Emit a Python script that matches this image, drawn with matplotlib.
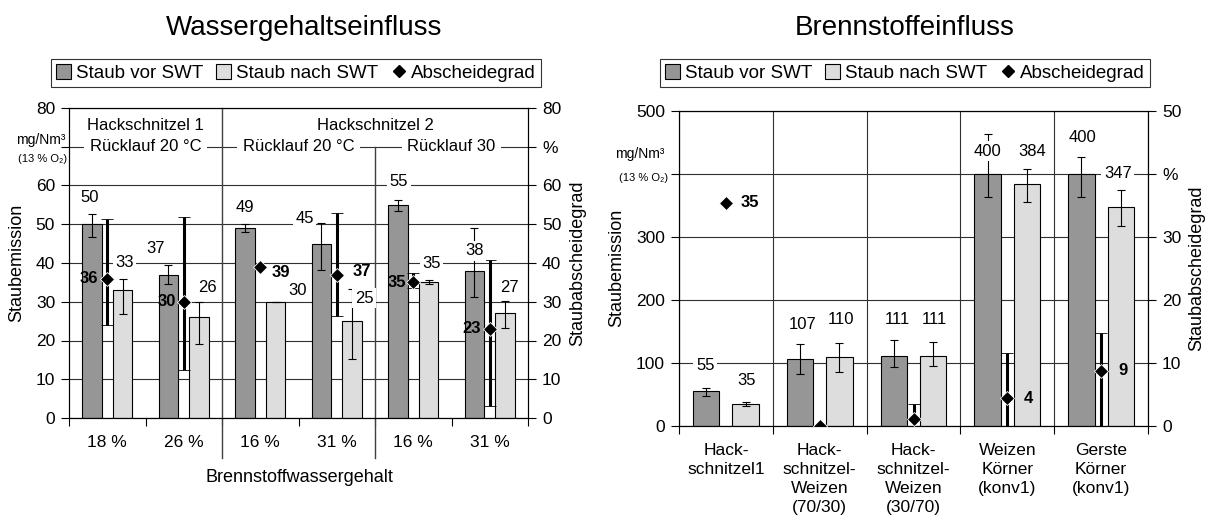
import numpy as np
import matplotlib
matplotlib.use("Agg")
import matplotlib.pyplot as plt
from matplotlib.patches import Patch
from matplotlib.lines import Line2D

plt.rcParams['font.family'] = ['Liberation Sans', 'DejaVu Sans']

# ---------------- data: Wassergehaltseinfluss ----------------
wg_groups = ['18 %', '26 %', '16 %', '31 %', '16 %', '31 %']
wg_vor = [50, 37, 49, 45, 55, 38]
wg_vor_lo = [46.6, 34.7, 48.1, 38.2, 53.3, 31.3]
wg_vor_hi = [52.6, 39.4, 50.0, 50.2, 56.2, 49.1]
wg_nach = [33, 26, 30, 25, 35, 27]
wg_nach_lo = [26.9, 19.2, 30.0, 15.3, 34.7, 23.2]
wg_nach_hi = [35.9, 30.0, 30.0, 33.3, 35.6, 30.3]
wg_grad = [36, 30, 39, 37, 35, 23]
wg_grad_lo = [24.0, 12.3, 39.0, 26.3, 33.5, 3.2]
wg_grad_hi = [51.4, 51.9, 39.0, 52.8, 37.5, 40.9]
wg_fuel = ['Hackschnitzel 1', 'Hackschnitzel 2']
wg_ruecklauf = ['Rücklauf 20 °C', 'Rücklauf 20 °C', 'Rücklauf 30']

# ---------------- data: Brennstoffeinfluss ----------------
bf_cats = ['Hack-\nschnitzel1', 'Hack-\nschnitzel-\nWeizen\n(70/30)',
           'Hack-\nschnitzel-\nWeizen\n(30/70)', 'Weizen\nKörner\n(konv1)',
           'Gerste\nKörner\n(konv1)']
bf_vor = [55, 107, 111, 400, 400]
bf_vor_lo = [47, 83, 93, 364, 364]
bf_vor_hi = [61, 130, 137, 464, 427]
bf_nach = [35, 110, 111, 384, 347]
bf_nach_lo = [31, 85, 95, 355, 317]
bf_nach_hi = [38, 131, 134, 408, 374]
bf_grad = [35.4, 0, 1.1, 4.4, 8.8]
bf_grad_lo = [35.4, 0, 0, 0, 0]
bf_grad_hi = [35.4, 0, 3.5, 11.6, 14.7]
bf_grad_labels = ['35', '', '', '4', '9']

# ---------------- styles ----------------
W, H = 1213, 532
C_DARK = '#969696'
C_LIGHT = '#DDDDDD'
GRID = '#303030'
FS_TICK = 12.5
FS_LAB = 12

fig = plt.figure(figsize=(W / 100, H / 100), dpi=100)


def px_axes(x0, y0, x1, y1):
    return fig.add_axes([x0 / W, (H - y1) / H, (x1 - x0) / W, (y1 - y0) / H])


def err(v, lo, hi):
    v = np.asarray(v, float)
    return [v - np.asarray(lo, float), np.asarray(hi, float) - v]


def setup_xaxis(ax, n, labels):
    ax.set_xlim(-0.5, n - 0.5)
    ax.set_xticks(np.arange(n + 1) - 0.5)
    ax.set_xticklabels([])
    ax.set_xticks(np.arange(n), minor=True)
    ax.set_xticklabels(labels, minor=True, fontsize=FS_TICK, linespacing=1.35,
                       va='top')
    ax.tick_params(axis='x', which='major', length=6, direction='out',
                   width=0.8)
    ax.tick_params(axis='x', which='minor', length=0, pad=12)


def draw_chart(ax, cats, vor, vlo, vhi, nach, nlo, nhi, grad, glo, ghi,
               ymax, ystep, gmax, gstep, off, bw, vor_off, nach_off,
               grad_labels, grad_off, pct_tick):
    n = len(cats)
    x = np.arange(n)
    ax.bar(x - off, vor, bw, color=C_DARK, edgecolor='black', lw=0.8, zorder=2)
    ax.bar(x + off, nach, bw, color=C_LIGHT, edgecolor='black', lw=0.8,
           zorder=2)
    ax.errorbar(x - off, vor, yerr=err(vor, vlo, vhi), fmt='none',
                ecolor='black', elinewidth=0.8, capsize=3, capthick=0.8,
                zorder=3)
    ax.errorbar(x + off, nach, yerr=err(nach, nlo, nhi), fmt='none',
                ecolor='black', elinewidth=0.8, capsize=3, capthick=0.8,
                zorder=3)
    ax.set_ylim(0, ymax)
    yt = np.arange(0, ymax + ystep / 2, ystep)
    ax.set_yticks(yt)
    ax.set_yticklabels(['' if t == pct_tick * ymax / gmax else '%g' % t
                        for t in yt], fontsize=FS_TICK)
    ax.tick_params(axis='y', length=6, width=0.8, pad=4)
    ax.yaxis.grid(True, color=GRID, lw=0.8)
    ax.set_axisbelow(True)
    setup_xaxis(ax, n, cats)
    for s in ax.spines.values():
        s.set_linewidth(0.8)

    ax2 = ax.twinx()
    ax2.set_ylim(0, gmax)
    gt = np.arange(0, gmax + gstep / 2, gstep)
    ax2.set_yticks(gt)
    ax2.set_yticklabels(['%' if t == pct_tick else '%g' % t for t in gt],
                        fontsize=FS_TICK)
    ax2.tick_params(axis='y', length=6, width=0.8, pad=4)
    ax2.errorbar(x, grad, yerr=err(grad, glo, ghi), fmt='D', color='black',
                 ms=7.5, mec='white', mew=0.6, elinewidth=2.2, capsize=4,
                 capthick=2.2, zorder=5)
    # value labels (white background); offsets in px, positive = up
    for i in range(n):
        for val, xo, (dx, dy) in ((vor[i], -off, vor_off[i]),
                                  (nach[i], off, nach_off[i])):
            ax2.annotate('%g' % val, xy=(x[i] + xo, val), xycoords=ax.transData,
                         xytext=(dx * 0.72, dy * 0.72), textcoords='offset points',
                         ha='center', va='center', fontsize=FS_LAB, zorder=6,
                         bbox=dict(boxstyle='square,pad=0.15', fc='white',
                                   ec='none'))
        if grad_labels[i]:
            dx, dy = grad_off[i]
            ax2.annotate(grad_labels[i], xy=(x[i], grad[i]),
                         xytext=(dx * 0.72, dy * 0.72),
                         textcoords='offset points', ha='center', va='center',
                         fontsize=FS_LAB, fontweight='bold', zorder=7)
    return ax2


# ================= left chart =================
axL = px_axes(69, 108, 528, 418)
wg_vor_off = [(-2, 27), (-13, 26), (0, 21), (-17, 25), (1, 23), (0, 20)]
wg_nach_off = [(2, 28), (8, 30), (22, 11), (12, 23), (3, 19), (4, 26)]
wg_grad_off = [(-18, 0), (-17, 0), (21, -6), (25, 3), (-16, 0), (-18, 0)]
axL2 = draw_chart(axL, wg_groups, wg_vor, wg_vor_lo, wg_vor_hi, wg_nach,
                  wg_nach_lo, wg_nach_hi, wg_grad, wg_grad_lo, wg_grad_hi,
                  80, 10, 80, 10, 0.2, 0.26, wg_vor_off, wg_nach_off,
                  [str(g) for g in wg_grad], wg_grad_off, 70)
# separators
axL.axvline(1.5, ymin=-40 / 310, ymax=1, color='#404040', lw=1.0,
            clip_on=False, zorder=1)
axL.axvline(3.5, ymin=-40 / 310, ymax=70 / 80, color='#404040', lw=1.0,
            clip_on=False, zorder=1)
for cx, t in zip([0.5, 3.5], wg_fuel):
    axL2.text(cx, 75.4, t, ha='center', va='center', fontsize=FS_LAB,
              transform=axL.transData)
for cx, t in zip([0.5, 2.5, 4.5], wg_ruecklauf):
    axL2.text(cx, 70, t, ha='center', va='center', fontsize=FS_LAB,
              transform=axL.transData,
              bbox=dict(boxstyle='square,pad=0.35', fc='white', ec='none'))
fig.text(65 / W, (H - 140) / H, 'mg/Nm³', ha='right', va='center', fontsize=10)
fig.text(67 / W, (H - 159) / H, '(13 % O₂)', ha='right', va='center',
         fontsize=8)
fig.text(17 / W, (H - 263) / H, 'Staubemission', rotation=90, ha='center',
         va='center', fontsize=13)
fig.text(578 / W, (H - 263) / H, 'Staubabscheidegrad', rotation=90,
         ha='center', va='center', fontsize=13)
fig.text(299 / W, (H - 477) / H, 'Brennstoffwassergehalt', ha='center',
         va='center', fontsize=13)

# ================= right chart =================
axR = px_axes(679, 111, 1148, 426)
bf_vor_off = [(-1, 26), (3, 34), (4, 37), (0, 23), (1, 36)]
bf_nach_off = [(1, 23), (2, 37), (1, 37), (5, 33), (-3, 34)]
bf_grad_off = [(24, 0), (0, 0), (0, 0), (21, 0), (22, 0)]
axR2 = draw_chart(axR, bf_cats, bf_vor, bf_vor_lo, bf_vor_hi, bf_nach,
                  bf_nach_lo, bf_nach_hi, bf_grad, bf_grad_lo, bf_grad_hi,
                  500, 100, 50, 10, 0.21, 0.28, bf_vor_off, bf_nach_off,
                  bf_grad_labels, bf_grad_off, 40)
axR.xaxis.grid(True, which='major', color=GRID, lw=0.8)
fig.text(664 / W, (H - 154) / H, 'mg/Nm³', ha='right', va='center',
         fontsize=10)
fig.text(668 / W, (H - 178) / H, '(13 % O₂)', ha='right', va='center',
         fontsize=8)
fig.text(617 / W, (H - 268) / H, 'Staubemission', rotation=90, ha='center',
         va='center', fontsize=13)
fig.text(1197 / W, (H - 268) / H, 'Staubabscheidegrad', rotation=90,
         ha='center', va='center', fontsize=13)

# ================= titles & legends =================
fig.text(304 / W, (H - 28) / H, 'Wassergehaltseinfluss', ha='center',
         va='center', fontsize=20)
fig.text(905 / W, (H - 28) / H, 'Brennstoffeinfluss', ha='center',
         va='center', fontsize=20)

handles = [Patch(fc=C_DARK, ec='black', lw=0.8),
           Patch(fc=C_LIGHT, ec='black', lw=0.8),
           Line2D([], [], marker='D', color='black', ls='none', ms=6)]
names = ['Staub vor SWT', 'Staub nach SWT', 'Abscheidegrad']
for cx in (296, 905):
    leg = fig.legend(handles, names, loc='center',
                     bbox_to_anchor=(cx / W, (H - 73) / H), ncol=3,
                     fontsize=13.5, frameon=True, fancybox=False,
                     edgecolor='black', handlelength=0.8, handleheight=0.8,
                     handletextpad=0.25, columnspacing=0.7, borderpad=0.3,
                     borderaxespad=0)
    leg.get_frame().set_linewidth(0.8)

fig.savefig('out.png', dpi=100, facecolor='white')
